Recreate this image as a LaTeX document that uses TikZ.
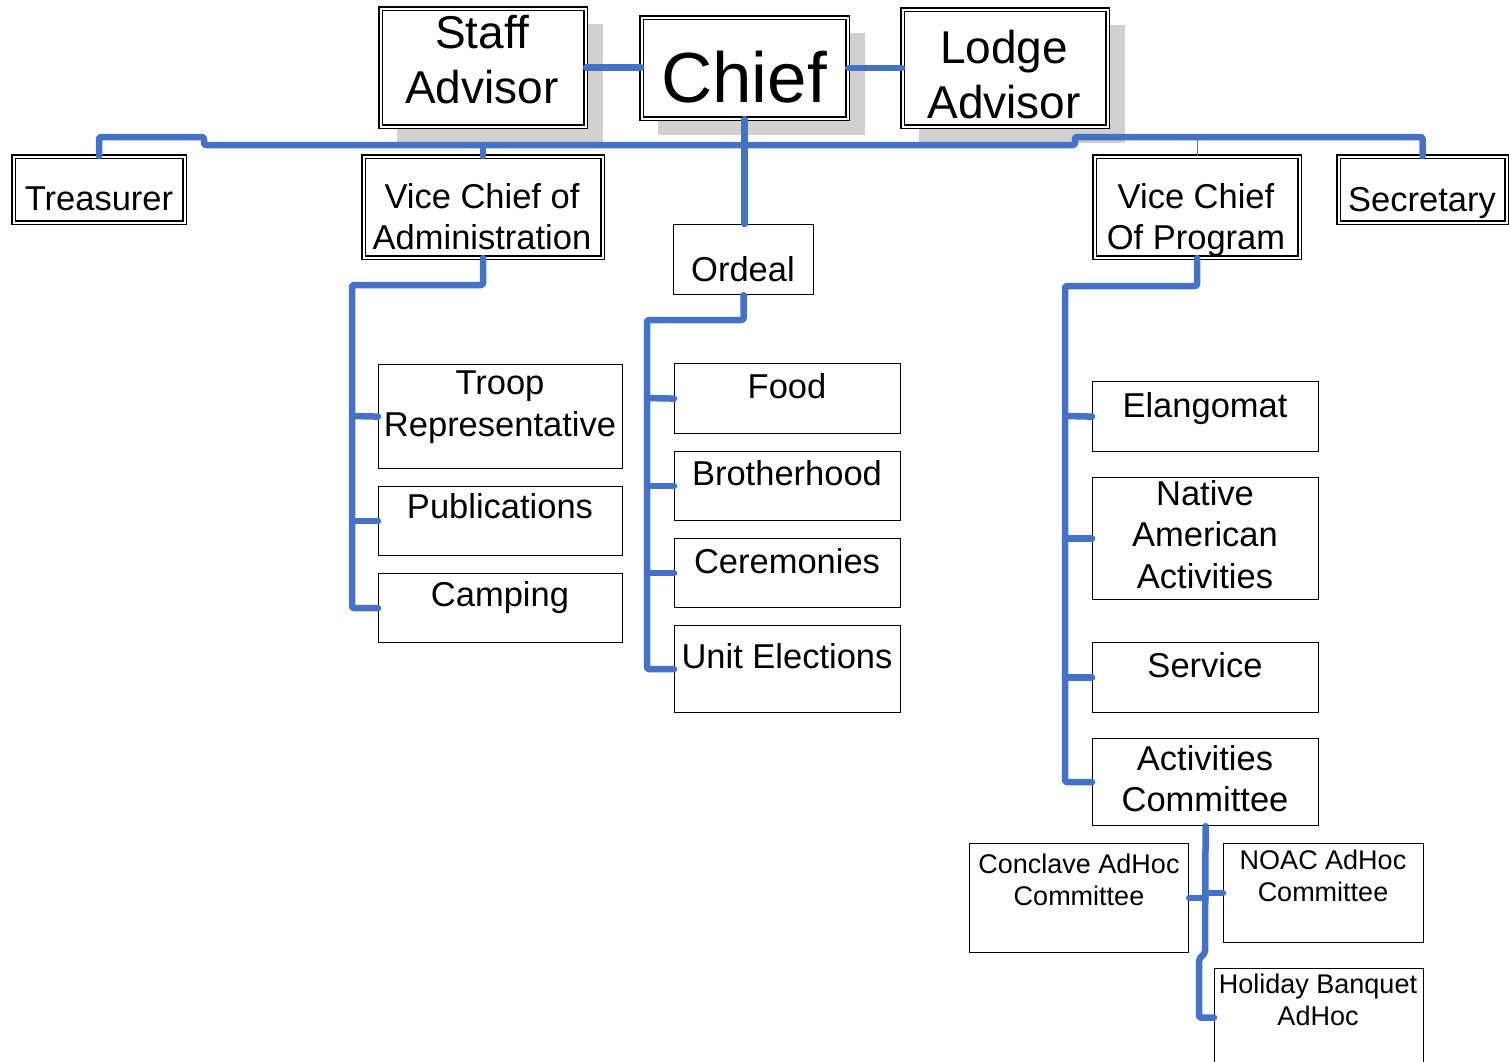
\documentclass[tikz,border=0pt]{standalone}
\usepackage{fontspec}
\setmainfont{Liberation Sans}
\usetikzlibrary{calc}
\pgfdeclarelayer{bg}
\pgfsetlayers{bg,main}
\definecolor{blu}{HTML}{4472C4}
\definecolor{shade}{HTML}{D0D0D0}
\newcommand\fbig{\fontsize{46}{55}\selectfont}
\newcommand\fhuge{\fontsize{71}{80}\selectfont}
\newcommand\fmid{\fontsize{34.5}{41.5}\selectfont}
\newcommand\fsmall{\fontsize{27}{32}\selectfont}
\begin{document}
\begin{tikzpicture}[x=1pt,y=-1pt,
 dbox/.style={draw=black, line width=1.1pt, double=white, double distance=2pt, fill=white, inner sep=0, anchor=north west},
 sbox/.style={draw=black, line width=1.2pt, fill=white, inner sep=0, anchor=north west},
 txt/.style={anchor=north, align=center, inner sep=0},
 bus/.style={draw=blu, line width=6.5pt, line cap=round, line join=round, rounded corners=2pt},
 thinbus/.style={draw=blu, line width=1pt},
 shadowbox/.style={fill=shade}]
\useasboundingbox (0,0) rectangle (1509,1061);

% ---- top row (double boxes with shadow)
\node[dbox, minimum width=205, minimum height=118] (staff) at (380,8) {};
\node[dbox, minimum width=206, minimum height=101] (chief) at (641,17) {};
\node[dbox, minimum width=205, minimum height=117] (lodge) at (902,9) {};
\begin{pgfonlayer}{bg}
\foreach \n in {staff,chief,lodge}
  \fill[shadowbox] ([shift={(17,16)}]\n.north west) rectangle ([shift={(17,16)}]\n.south east);
\end{pgfonlayer}
\node[txt, font=\fbig] (staffT) at (482,15) {Staff\\Advisor};
\node[txt, font=\fhuge] (chiefT) at (744,51) {Chief};
\node[txt, font=\fbig] (lodgeT) at (1004,30) {Lodge\\Advisor};

% ---- second row
\node[dbox, minimum width=171, minimum height=66] (treas) at (13,156) {};
\node[dbox, minimum width=239, minimum height=101] (vca) at (363,156) {};
\node[dbox, minimum width=205, minimum height=101] (vcp) at (1094,156) {};
\node[dbox, minimum width=168, minimum height=66] (sec) at (1338,156) {};
\node[sbox, minimum width=140, minimum height=70] (ordeal) at (673,224) {};
\node[txt, font=\fmid] (treasT) at (99,187) {Treasurer};
\node[txt, font=\fmid] (vcaT) at (482,183) {Vice Chief of\\Administration};
\node[txt, font=\fmid] (vcpT) at (1196,183) {Vice Chief\\Of Program};
\node[txt, font=\fmid] (secT) at (1422,187) {Secretary};
\node[txt, font=\fmid] (ordealT) at (743,256) {Ordeal};

% ---- administration column
\node[sbox, minimum width=244, minimum height=104] (troop) at (378,364) {};
\node[sbox, minimum width=244, minimum height=69] (pub) at (378,486) {};
\node[sbox, minimum width=244, minimum height=69] (camp) at (378,573) {};
\node[txt, font=\fmid] (troopT) at (500,371) {Troop\\Representative};
\node[txt, font=\fmid] (pubT) at (500,493) {Publications};
\node[txt, font=\fmid] (campT) at (500,581) {Camping};

% ---- ordeal column
\node[sbox, minimum width=226, minimum height=70] (food) at (674,363) {};
\node[sbox, minimum width=226, minimum height=69] (bro) at (674,451) {};
\node[sbox, minimum width=226, minimum height=69] (cer) at (674,538) {};
\node[sbox, minimum width=226, minimum height=87] (unit) at (674,625) {};
\node[txt, font=\fmid] (foodT) at (787,373) {Food};
\node[txt, font=\fmid] (broT) at (787,460) {Brotherhood};
\node[txt, font=\fmid] (cerT) at (787,548) {Ceremonies};
\node[txt, font=\fmid] (unitT) at (787,643) {Unit Elections};

% ---- program column
\node[sbox, minimum width=226, minimum height=70] (elan) at (1092,381) {};
\node[sbox, minimum width=226, minimum height=122] (nat) at (1092,477) {};
\node[sbox, minimum width=226, minimum height=70] (serv) at (1092,642) {};
\node[sbox, minimum width=226, minimum height=87] (act) at (1092,738) {};
\node[txt, font=\fmid] (elanT) at (1205,392) {Elangomat};
\node[txt, font=\fmid] (natT) at (1205,480) {Native\\American\\Activities};
\node[txt, font=\fmid] (servT) at (1205,652) {Service};
\node[txt, font=\fmid] (actT) at (1205,745) {Activities\\Committee};

% ---- ad hoc committees
\node[sbox, minimum width=219, minimum height=109] (conc) at (969,843) {};
\node[sbox, minimum width=200, minimum height=99] (noac) at (1223,843) {};
\node[sbox, minimum width=209, minimum height=98] (hol) at (1214,968) {};
\node[txt, font=\fsmall] (concT) at (1079,854) {Conclave AdHoc\\Committee};
\node[txt, font=\fsmall] (noacT) at (1323,850) {NOAC AdHoc\\Committee};
\node[txt, font=\fsmall] (holT) at (1318,974) {Holiday Banquet\\AdHoc};

% ---- connectors
\draw[bus] (staff.east) -- (staff.east -| chief.west);
\draw[bus] (chief.east) -- (chief.east -| lodge.west);
\draw[bus] (treas.north) |- (204,137) |- (1075,145) |- (sec.north |- 0,137) -- (sec.north);
\draw[bus] (chief.south) -- (chief.south |- ordeal.north);
\draw[bus] (vca.north) -- (vca.north |- 0,145);
\draw[thinbus] (vcp.north) -- (vcp.north |- 0,137);

\draw[bus] (vca.south) |- (352,285) -- (352,416) |- (camp.west);
\draw[bus] (352,416) -- (troop.west);
\draw[bus] (pub.west -| 352,0) -- (pub.west);

\draw[bus] (ordeal.south) |- (647,320) -- (647,398) |- (unit.west);
\draw[bus] (647,398) -- (food.west);
\draw[bus] (bro.west -| 647,0) -- (bro.west);
\draw[bus] (cer.west -| 647,0) -- (cer.west);

\draw[bus] (vcp.south) |- (1065,286) -- (1065,416) |- (act.west);
\draw[bus] (1065,416) -- (elan.west);
\draw[bus] (nat.west -| 1065,0) -- (nat.west);
\draw[bus] (serv.west -| 1065,0) -- (serv.west);

\draw[bus] (act.south) -- (1205,953) -- (1199,959) |- (hol.west);
\draw[bus] (conc.east) -- (conc.east -| act.south);
\draw[bus] (noac.west -| act.south) -- (noac.west);
\end{tikzpicture}
\end{document}
